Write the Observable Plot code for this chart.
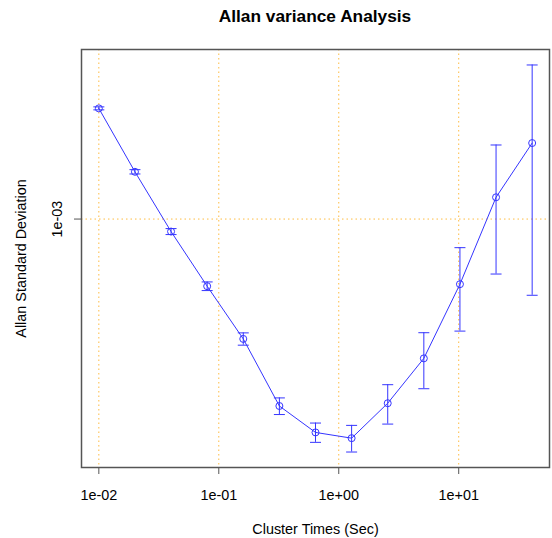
<!DOCTYPE html>
<html><head><meta charset="utf-8">
<script src="https://cdn.jsdelivr.net/npm/d3@7"></script>
<script src="https://cdn.jsdelivr.net/npm/@observablehq/plot@0.6"></script>
<style>
body{margin:0;background:#fff;}
#wrap{position:relative;width:552px;height:538px;font-family:"Liberation Sans",Arial,sans-serif;}
#title{position:absolute;left:81px;width:468px;top:6px;line-height:20px;text-align:center;font-weight:bold;font-size:17.3px;color:#000;}
#wrap svg{position:absolute;left:0;top:0;}
</style></head><body>
<div id="wrap"><div id="title">Allan variance Analysis</div></div>
<script>
// Data
const clusterTimes = [0.01, 0.02, 0.04, 0.08, 0.16, 0.32, 0.64, 1.28, 2.56, 5.12, 10.24, 20.48, 40.96];
const allanDev = [1.947e-3, 1.329e-3, 0.9275e-3, 0.6675e-3, 0.486e-3, 0.3245e-3, 0.2768e-3, 0.2674e-3, 0.330e-3, 0.4323e-3, 0.6756e-3, 1.14e-3, 1.58e-3];
const relError = [0.009, 0.013, 0.018, 0.026, 0.037, 0.05, 0.058, 0.08, 0.118, 0.167, 0.246, 0.37, 0.60];
const xTicks = [0.01, 0.1, 1, 10];
const xTickLabels = ["1e-02", "1e-01", "1e+00", "1e+01"];
const yTicks = [0.001];
const yTickLabels = ["1e-03"];

const data = clusterTimes.map((t, i) => ({
  t, v: allanDev[i],
  lo: allanDev[i] * (1 - relError[i]),
  hi: allanDev[i] * (1 + relError[i])
}));

// R-style 4% padding on log axes
function padLog(lo, hi) {
  const a = Math.log10(lo), b = Math.log10(hi), p = 0.04 * (b - a);
  return [10 ** (a - p), 10 ** (b + p)];
}
const xDom = padLog(d3.min(clusterTimes), d3.max(clusterTimes));
const yDom = padLog(d3.min(data, d => d.lo), d3.max(data, d => d.hi));

const capSymbol = {
  draw(ctx, size) {
    const w = Math.sqrt(size / Math.PI);
    ctx.moveTo(-w, 0); ctx.lineTo(w, 0);
  }
};
const blue = "#3535ff";
const gridStyle = {stroke: "#ffa500", strokeDasharray: "1.5,3", strokeOpacity: 0.75};

const plot = Plot.plot({
  width: 552, height: 538,
  marginLeft: 81, marginRight: 3, marginTop: 49, marginBottom: 71,
  style: {fontFamily: '"Liberation Sans", Arial, sans-serif', fontSize: "14.4px", color: "#000", background: "transparent"},
  x: {type: "log", domain: xDom},
  y: {type: "log", domain: yDom},
  marks: [
    Plot.ruleX(xTicks, gridStyle),
    Plot.ruleY(yTicks, gridStyle),
    Plot.line(data, {x: "t", y: "v", stroke: blue, strokeWidth: 1}),
    Plot.ruleX(data, {x: "t", y1: "lo", y2: "hi", stroke: blue, strokeWidth: 1}),
    Plot.dot(data, {x: "t", y: "lo", symbol: capSymbol, r: 5.5, stroke: blue, strokeWidth: 1}),
    Plot.dot(data, {x: "t", y: "hi", symbol: capSymbol, r: 5.5, stroke: blue, strokeWidth: 1}),
    Plot.dot(data, {x: "t", y: "v", r: 3.5, stroke: blue, strokeWidth: 1, fill: "none"}),
    Plot.axisX(xTicks, {
      tickFormat: d => xTickLabels[xTicks.indexOf(d)],
      tickSize: 7, tickPadding: 15, stroke: "#555",
      label: "Cluster Times (Sec)", labelAnchor: "center", labelArrow: "none", labelOffset: 66
    }),
    Plot.axisY(yTicks, {
      tickFormat: d => yTickLabels[yTicks.indexOf(d)],
      tickSize: 7, tickPadding: 13, tickRotate: -90, stroke: "#555",
      label: "Allan Standard Deviation", labelAnchor: "center", labelArrow: "none", labelOffset: 66
    }),
    Plot.frame({stroke: "#555", strokeWidth: 1.5})
  ]
});
document.getElementById("wrap").appendChild(plot);
</script>
</body></html>
